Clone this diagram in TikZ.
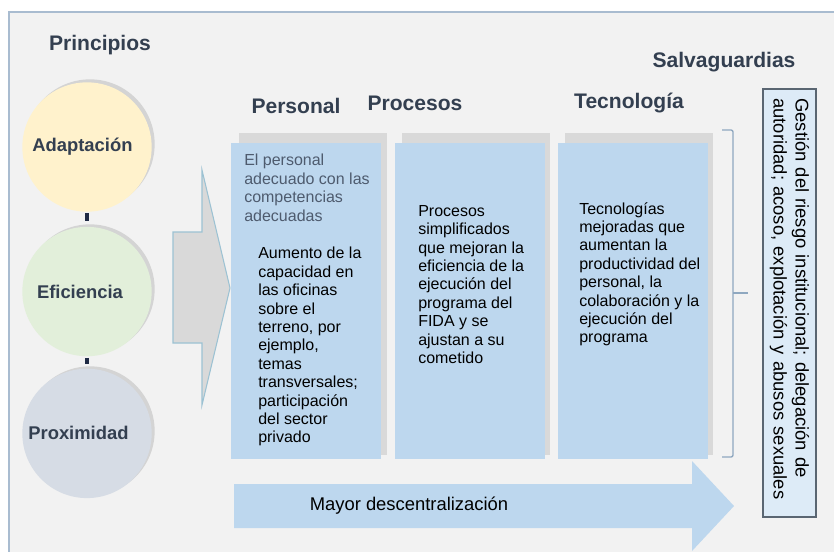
\documentclass[tikz,border=0pt]{standalone}
\usepackage{fontspec}
\setmainfont{Liberation Sans}
\usetikzlibrary{positioning}

\definecolor{framebg}{HTML}{F2F2F2}
\definecolor{framepen}{HTML}{A9BCD0}
\definecolor{headtxt}{HTML}{333F50}
\definecolor{softtxt}{HTML}{4E5B6E}
\definecolor{adaptyel}{HTML}{FFF2CC}
\definecolor{eficgreen}{HTML}{E2EFDA}
\definecolor{proxgray}{HTML}{D6DCE5}
\definecolor{ringgray}{HTML}{D4D4D4}
\definecolor{linknavy}{HTML}{1F2A44}
\definecolor{colblue}{HTML}{BDD7EE}
\definecolor{colgray}{HTML}{D9D9D9}
\definecolor{bracegray}{HTML}{8FA8C0}
\definecolor{safefill}{HTML}{DDEBF7}
\definecolor{safepen}{HTML}{5A6672}
\definecolor{arrowpen}{HTML}{9CC2D3}

\begin{document}
\begin{tikzpicture}[
    x=0.75pt, y=-0.75pt,
    head/.style={font=\fontsize{15.8}{18}\selectfont\bfseries, text=headtxt},
    principle/.style={circle, minimum size=97pt, inner sep=0pt},
    plabel/.style={font=\fontsize{13.8}{16}\selectfont\bfseries, text=headtxt,
                   inner sep=0pt},
    column/.style={fill=colblue, minimum width=112.5pt, minimum height=237pt,
                   inner sep=0pt},
    body/.style={font=\fontsize{12}{13.8}\selectfont, align=left,
                 inner sep=0pt, anchor=north west},
    link/.style={draw=linknavy, line width=3pt},
    brace/.style={draw=bracegray, line width=1pt, rounded corners=1.5pt},
    safebox/.style={draw=safepen, fill=safefill, line width=1.2pt,
                    minimum width=321pt, minimum height=39.75pt, inner sep=0pt,
                    text width=307pt, align=left,
                    font=\fontsize{13.8}{16.5}\selectfont}
  ]
  \useasboundingbox (0,0) rectangle (834,551);

  % Frame
  \draw[framepen, fill=framebg, line width=1.5pt] (9,12) rectangle (850,570);

  % Headings
  \node[head] (princ) at (100,45) {Principios};
  \node[head] (salv) at (724,62) {Salvaguardias};

  % Principles
  \foreach \y in {147,292,434}
    \fill[ringgray] (90,\y-3) circle (48.5pt);
  \node[principle, fill=adaptyel] (adapt) at (87,147) {};
  \node[principle, fill=eficgreen, below=11pt of adapt] (efic) {};
  \node[principle, fill=proxgray, below=9pt of efic] (prox) {};
  \node[plabel, right=7.5pt of adapt.west] (adaptlbl) {Adaptación};
  \node[plabel, right=11pt of efic.west] (eficlbl) {Eficiencia};
  \node[plabel, right=4.5pt of prox.west] (proxlbl) {Proximidad};

  \draw[link, shorten <=1pt, shorten >=4pt] (adapt.south) -- (efic.north);
  \draw[link, shorten <=1pt, shorten >=3pt] (efic.south) -- (prox.north);

  % Gray arrow
  \draw[arrowpen, fill=colgray, line width=0.8pt]
    (173,232) -- (202,232) -- (202,170) -- (230,288) -- (202,405)
    -- (202,343) -- (173,343) -- cycle;

  % Columns
  \foreach \l in {231,394,557}
    \fill[colgray] (\l+8,133) rectangle (\l+156,455);
  \node[column, anchor=north west] (pers) at (231,143) {};
  \node[column, right=9.75pt of pers] (proc) {};
  \node[column, right=9.75pt of proc] (tecn) {};

  \node[head] (perslbl) at (296,106) {Personal};
  \node[head] (proclbl) at (415,103) {Procesos};
  \node[head] (tecnlbl) at (629,103) {Tecnología};

  \node[body, text=softtxt] (persgoal) at (244,154)
    {El personal\\adecuado con las\\competencias\\adecuadas};
  \node[body] (perstxt) at (258,247)
    {Aumento de la\\capacidad en\\las oficinas\\sobre el\\terreno, por\\ejemplo,\\temas\\transversales;\\participación\\del sector\\privado};
  \node[body] (proctxt) at (418,205)
    {Procesos\\simplificados\\que mejoran la\\eficiencia de la\\ejecución del\\programa del\\FIDA y se\\ajustan a su\\cometido};
  \node[body] (tecntxt) at (579,202)
    {Tecnologías\\mejoradas que\\aumentan la\\productividad del\\personal, la\\colaboración y la\\ejecución del\\programa};

  % Bracket
  \coordinate (brtop) at (722,130);
  \coordinate (brbot) at (722,457);
  \coordinate (brmid) at (733,293);
  \draw[brace] (brtop) -- (733,130) -- (733,457) -- (brbot);
  \draw[brace] (brmid) -- ++(15,0);

  % Safeguards
  \node[safebox, rotate=-90] (safe) at (789.5,303)
    {Gestión del riesgo institucional; delegación de\\autoridad; acoso, explotación y abusos sexuales};

  % Decentralisation arrow
  \fill[colblue] (234,484) -- (692,484) -- (692,461) -- (734,506)
    -- (692,551) -- (692,528) -- (234,528) -- cycle;
  \node[font=\fontsize{13.8}{16}\selectfont] (decent) at (409,506)
    {Mayor descentralización};
\end{tikzpicture}
\end{document}
